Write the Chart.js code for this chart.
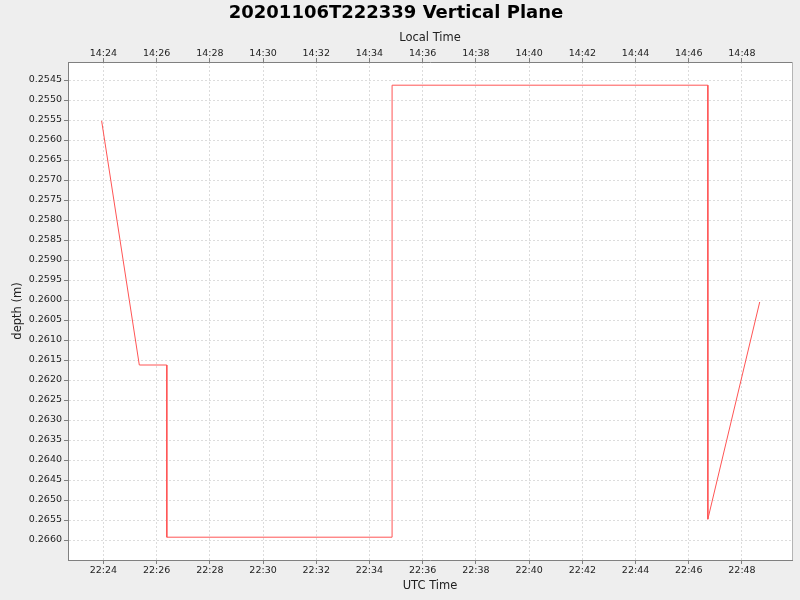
<!DOCTYPE html>
<html>
<head>
<meta charset="utf-8">
<script src="https://cdn.jsdelivr.net/npm/chart.js@4.4.1/dist/chart.umd.min.js"></script>
<style>
  body { margin: 0; background: #eeeeee; }
  canvas { display: block; }
</style>
</head>
<body>
<canvas id="myCanvas" width="800" height="600"></canvas>
<script>
// samples (UTC time, depth in metres)
let utcTimes = ["22:23:56", "22:25:21", "22:26:23", "22:26:23", "22:34:51", "22:34:51", "22:46:43", "22:46:43", "22:48:40"];
let depths = [0.25552, 0.261625, 0.261625, 0.26593, 0.26593, 0.25463, 0.25463, 0.26548, 0.26005];
let yTickMin = 0.2545;
let yTickMax = 0.2660;
let localOffsetHours = -8;

// minutes after 22:00 UTC
function toMinutes(str) {
  let parts = str.split(":").map(Number);
  return (parts[0] - 22) * 60 + parts[1] + parts[2] / 60;
}

function clockLabel(value, offset) {
  let total = Math.round((22 + offset) * 60 + value);
  let h = Math.floor(total / 60);
  let m = total % 60;
  return h + ":" + String(m).padStart(2, "0");
}

let points = [];
for (let i = 0; i < utcTimes.length; i++) {
  points.push({ x: toMinutes(utcTimes[i]), y: depths[i] });
}

const font = "'DejaVu Sans', sans-serif";
const gridColor = "#dcdcdc";
const axisColor = "#808080";
const textColor = "#222222";

// white plot area plus the thin light outline on the right
const plotBackground = {
  id: "plotBackground",
  beforeDraw(chart) {
    const { ctx, chartArea } = chart;
    ctx.save();
    ctx.fillStyle = "#ffffff";
    ctx.fillRect(chartArea.left, chartArea.top, chartArea.right - chartArea.left, chartArea.bottom - chartArea.top);
    ctx.restore();
  },
  afterDraw(chart) {
    const { ctx, chartArea } = chart;
    ctx.save();
    ctx.strokeStyle = "#b4b4b4";
    ctx.lineWidth = 1;
    ctx.beginPath();
    ctx.moveTo(chartArea.right + 0.5, chartArea.top);
    ctx.lineTo(chartArea.right + 0.5, chartArea.bottom);
    ctx.stroke();
    ctx.restore();
  }
};

function xAxis(position, title, offset, titlePadding, tickPadding) {
  return {
    type: "linear",
    position: position,
    min: 22.67,
    max: 49.88,
    afterFit: function (scale) {
      scale.height = position === "bottom" ? 40 : 35.4;
    },
    title: { display: true, text: title, color: textColor, font: { family: font, size: 11.5 }, padding: titlePadding },
    ticks: {
      stepSize: 2,
      includeBounds: false,
      autoSkip: false,
      maxRotation: 0,
      padding: tickPadding,
      color: textColor,
      font: { family: font, size: 9.5 },
      callback: function (value) { return clockLabel(value, offset); }
    },
    grid: {
      color: position === "bottom" ? gridColor : "rgba(0,0,0,0)",
      tickColor: axisColor,
      tickLength: 4,
      tickBorderDash: []
    },
    border: { display: true, color: axisColor, width: 1, dash: [2, 2] }
  };
}

const config = {
  type: "line",
  data: {
    datasets: [{
      label: "depth",
      data: points,
      borderColor: "#ff5555",
      backgroundColor: "#ff5555",
      borderWidth: 1,
      pointRadius: 0,
      tension: 0,
      fill: false
    }]
  },
  plugins: [plotBackground],
  options: {
    responsive: false,
    animation: false,
    devicePixelRatio: 1,
    layout: { padding: { left: 0, right: 8, top: 0, bottom: 0 } },
    plugins: {
      legend: { display: false },
      tooltip: { enabled: false },
      title: {
        display: true,
        text: "20201106T222339 Vertical Plane",
        color: "#000000",
        font: { family: font, size: 18, weight: "bold" },
        padding: { top: 3, bottom: 2 }
      }
    },
    scales: {
      x: xAxis("bottom", "UTC Time", 0, { top: 0, bottom: 7 }, 1),
      x2: xAxis("top", "Local Time", localOffsetHours, { top: 4.5, bottom: 0 }, -1),
      y: {
        type: "linear",
        position: "left",
        reverse: true,
        min: 0.25405,
        max: 0.2665,
        afterFit: function (scale) { scale.width = 68; },
        afterBuildTicks: function (scale) {
          scale.ticks = scale.ticks.filter(t => t.value >= yTickMin - 1e-7 && t.value <= yTickMax + 1e-7);
        },
        title: { display: true, text: "depth (m)", color: textColor, font: { family: font, size: 11.5 }, padding: { top: 11, bottom: 0 } },
        ticks: {
          stepSize: 0.0005,
          includeBounds: false,
          autoSkip: false,
          padding: 2,
          color: textColor,
          font: { family: font, size: 9.5 },
          callback: function (value) { return value.toFixed(4); }
        },
        grid: { color: gridColor, tickColor: axisColor, tickLength: 4, tickBorderDash: [] },
        border: { display: true, color: axisColor, width: 1, dash: [2, 2] }
      }
    }
  }
};

const canvas = document.getElementById("myCanvas");
new Chart(canvas, config);
</script>
</body>
</html>
